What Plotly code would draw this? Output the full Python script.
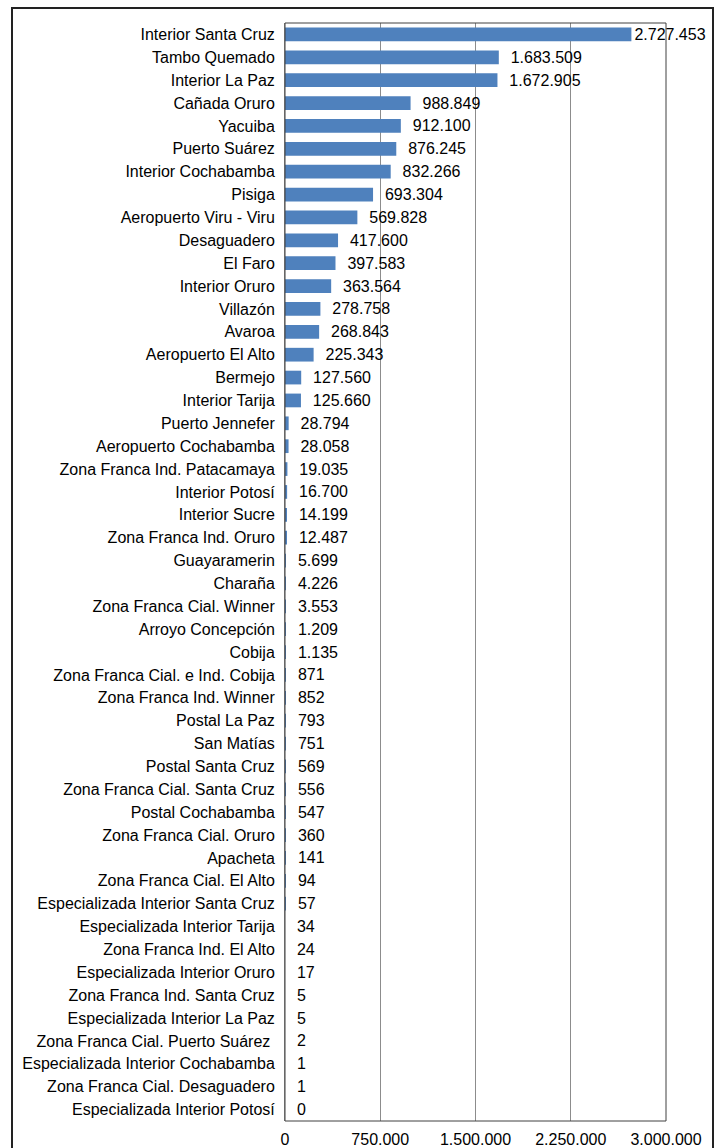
import plotly.graph_objects as go

categories = [
    "Interior Santa Cruz", "Tambo Quemado", "Interior La Paz", "Cañada Oruro", "Yacuiba",
    "Puerto Suárez", "Interior Cochabamba", "Pisiga", "Aeropuerto Viru - Viru", "Desaguadero",
    "El Faro", "Interior Oruro", "Villazón", "Avaroa", "Aeropuerto El Alto", "Bermejo",
    "Interior Tarija", "Puerto Jennefer", "Aeropuerto Cochabamba", "Zona Franca Ind. Patacamaya",
    "Interior Potosí", "Interior Sucre", "Zona Franca Ind. Oruro", "Guayaramerin", "Charaña",
    "Zona Franca Cial. Winner", "Arroyo Concepción", "Cobija", "Zona Franca Cial. e Ind. Cobija",
    "Zona Franca Ind. Winner", "Postal La Paz", "San Matías", "Postal Santa Cruz",
    "Zona Franca Cial. Santa Cruz", "Postal Cochabamba", "Zona Franca Cial. Oruro", "Apacheta",
    "Zona Franca Cial. El Alto", "Especializada Interior Santa Cruz", "Especializada Interior Tarija",
    "Zona Franca Ind. El Alto", "Especializada Interior Oruro", "Zona Franca Ind. Santa Cruz",
    "Especializada Interior La Paz", "Zona Franca Cial. Puerto Suárez ",
    "Especializada Interior Cochabamba", "Zona Franca Cial. Desaguadero", "Especializada Interior Potosí",
]
values = [
    2727453, 1683509, 1672905, 988849, 912100, 876245, 832266, 693304, 569828, 417600,
    397583, 363564, 278758, 268843, 225343, 127560, 125660, 28794, 28058, 19035,
    16700, 14199, 12487, 5699, 4226, 3553, 1209, 1135, 871, 852, 793, 751, 569, 556,
    547, 360, 141, 94, 57, 34, 24, 17, 5, 5, 2, 1, 1, 0,
]
x_ticks = [0, 750000, 1500000, 2250000, 3000000]

W, H = 720, 1148
L, R, T, B = 285, 54, 23, 27
pw, ph = W - L - R, H - T - B
FONT = "Liberation Sans, Arial, sans-serif"

# label gap (non-breaking spaces); the top label sits closer to its bar
NBSP = "\u00a0"
labels = [(NBSP * (0 if i == 0 else 2)) + f"{v:,}".replace(",", ".") for i, v in enumerate(values)]

fig = go.Figure(go.Bar(
    x=values, y=categories, orientation="h",
    marker=dict(color="#4F81BD", line=dict(width=0)),
    width=0.6,
    text=labels, texttemplate="%{text}", textposition="outside",
    textfont=dict(family=FONT, size=16, color="black"),
    cliponaxis=False, constraintext="none",
    hoverinfo="x+y",
))

fig.update_layout(
    width=W, height=H,
    margin=dict(l=L, r=R, t=T, b=B, autoexpand=False),
    paper_bgcolor="white", plot_bgcolor="white",
    separators=",.",
    showlegend=False,
    font=dict(family=FONT, size=16, color="black"),
    xaxis=dict(
        range=[0, 3000000], tickvals=x_ticks, tickformat=",d",
        showgrid=True, gridcolor="#8c8c8c", gridwidth=1,
        zeroline=False, showline=False, ticks="", ticklabelstandoff=7,
        tickfont=dict(family=FONT, size=16, color="black"),
        automargin=False,
    ),
    yaxis=dict(
        autorange="reversed", showgrid=False, zeroline=False,
        showline=True, linecolor="#8c8c8c", linewidth=1,
        ticks="", ticklabelstandoff=6, automargin=False,
        tickfont=dict(family=FONT, size=16, color="black"),
    ),
)

# plot area frame
fig.add_shape(type="rect", xref="paper", yref="paper", x0=0, x1=1, y0=0, y1=1,
              line=dict(color="#404040", width=1), layer="above")
# outer frame
fig.add_shape(type="rect", xref="paper", yref="paper",
              x0=(12 - L) / pw, x1=(713 - L) / pw,
              y0=-(B + 5) / ph, y1=(H - 8 - B) / ph,
              line=dict(color="#222222", width=2), layer="above")

fig.write_html("out.html", config={"displayModeBar": False},
               post_script="document.body.style.margin='0px';")
